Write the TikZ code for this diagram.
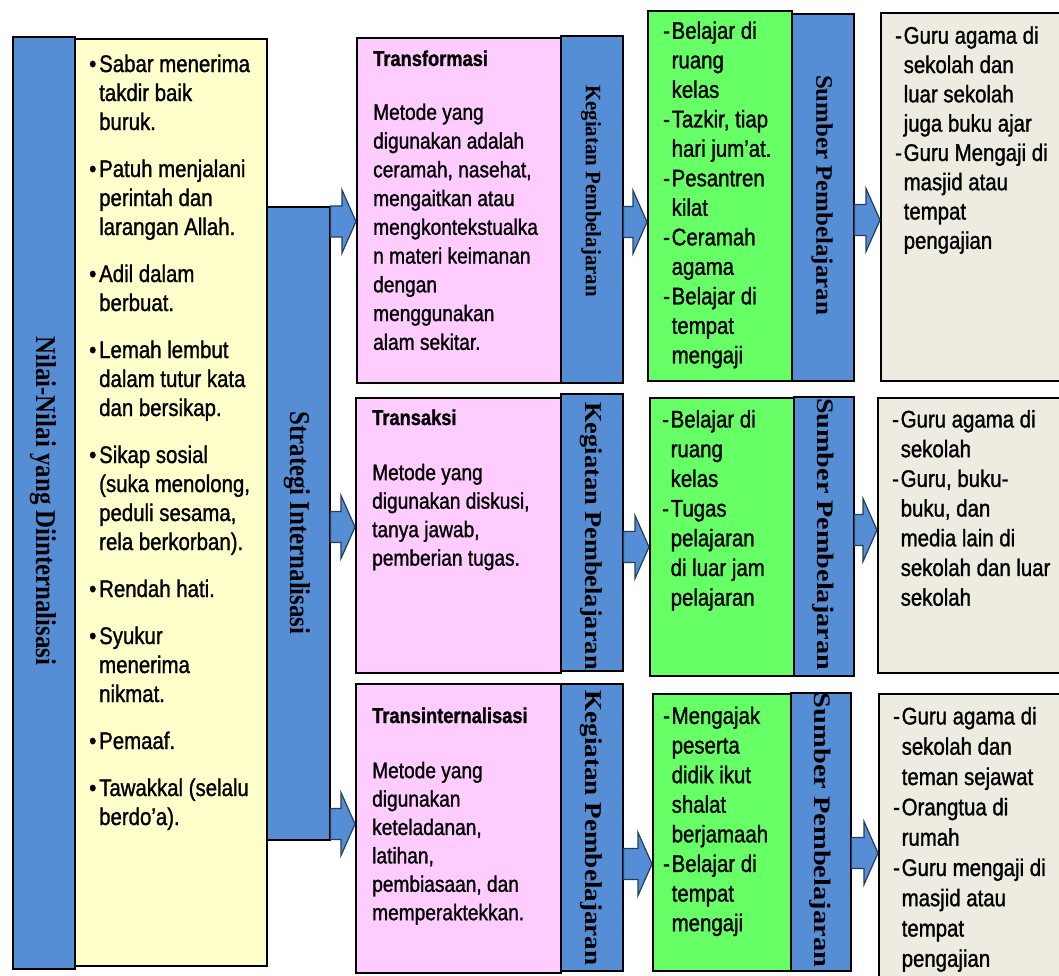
\documentclass[tikz,border=0pt]{standalone}
\usepackage{fontspec}
\setmainfont{Liberation Sans}[FakeStretch=0.85, FakeBold=1.2]
\newfontfamily\lserif{Liberation Serif}
\usetikzlibrary{calc}
\definecolor{barblue}{HTML}{558ED5}
\definecolor{arrline}{HTML}{243F60}
\definecolor{yellowfill}{HTML}{FFFFCC}
\definecolor{pinkfill}{HTML}{FFCCFF}
\definecolor{greenfill}{HTML}{66FF66}
\definecolor{grayfill}{HTML}{EEECE1}
\newcommand\bul{\makebox[10pt][l]{\textbullet}}
\newcommand\hind{\hspace*{10pt}}
\newcommand\dsh{\makebox[8.5pt][l]{-}}
\newcommand\dind{\hspace*{8.5pt}}
\newcommand\bx[6]{\node[#2, anchor=north west, inner sep=0pt, minimum width={(#5-#3)*1pt}, minimum height={(#6-#4)*1pt}] (#1) at (#3,#4) {};}
\newcommand\barr[3]{\draw[blockarrow] let \p1=(#1.east), \p2=(#2.west), \p3=(0,#3) in
  (\x1,\y3+15.5pt) -- (\x2-14pt,\y3+15.5pt) -- (\x2-14pt,\y3+31.5pt) -- (\x2,\y3)
  -- (\x2-14pt,\y3-31.5pt) -- (\x2-14pt,\y3-15.5pt) -- (\x1,\y3-15.5pt) -- cycle;}
\newcommand\vlab[3]{\rotatebox{-90}{\scalebox{#2}[1]{\fontsize{#1}{#1}\selectfont\lserif\bfseries #3}}}
\tikzset{
  box/.style={draw=black, line width=1.6pt},
  bluebar/.style={box, fill=barblue},
  yellowbox/.style={box, fill=yellowfill},
  pinkbox/.style={box, fill=pinkfill},
  greenbox/.style={box, fill=greenfill},
  graybox/.style={box, fill=grayfill},
  blockarrow/.style={draw=arrline, line width=1.2pt, fill=barblue, line join=miter},
  txt/.style={anchor=north west, inner sep=0pt, align=left},
  head/.style={anchor=base west, inner sep=0pt, font=\fontsize{21.5}{26}\selectfont\bfseries},
  vl/.style={inner sep=0pt}
}
\begin{document}
\begin{tikzpicture}[x=1pt, y=-1pt]
\path[use as bounding box] (0,0) rectangle (1059,976);
\clip (0,0) rectangle (1059,976);
\fill[white] (0,0) rectangle (1059,976);

% left column
\bx{nilai}{bluebar}{12}{36}{74}{968}
\bx{values}{yellowbox}{74}{38}{266}{965}
\bx{strat}{bluebar}{266}{206}{329}{839}

% pink column
\bx{pinkA}{pinkbox}{356}{37}{560}{382}
\bx{kegA}{bluebar}{560}{35}{622}{382}
\bx{pinkB}{pinkbox}{355}{397}{560}{672}
\bx{kegB}{bluebar}{560}{393}{622}{670}
\bx{pinkC}{pinkbox}{355}{683}{560}{972}
\bx{kegC}{bluebar}{560}{683}{622}{970}

% green column
\bx{greenA}{greenbox}{647}{10}{791}{380}
\bx{sumA}{bluebar}{791}{13}{853}{380}
\bx{greenB}{greenbox}{649}{397}{793}{675}
\bx{sumB}{bluebar}{793}{396}{853}{675}
\bx{greenC}{greenbox}{652}{693}{790}{970}
\bx{sumC}{bluebar}{790}{692}{850}{970}

% gray column
\bx{grayA}{graybox}{880}{12}{1066}{380}
\bx{grayB}{graybox}{877}{397}{1066}{672}
\bx{grayC}{graybox}{878}{693}{1066}{990}

% arrows
\barr{strat}{pinkA}{221.5}
\barr{strat}{pinkB}{527}
\barr{strat}{pinkC}{824}
\barr{kegA}{greenA}{222}
\barr{kegB}{greenB}{547}
\barr{kegC}{greenC}{864}
\barr{sumA}{grayA}{220}
\barr{sumB}{grayB}{530}
\barr{sumC}{grayC}{853}

% vertical labels
\node[vl] (lnilai) at (43,501) {\vlab{28.7}{0.867}{Nilai-Nilai yang Diinternalisasi}};
\node[vl] (lstrat) at (297,523) {\vlab{28.7}{0.866}{Strategi Internalisasi}};
\node[vl] (lkegA) at (591,191) {\vlab{22}{0.95}{Kegiatan Pembelajaran}};
\node[vl] (lkegB) at (591,536) {\vlab{24.2}{1.09}{Kegiatan Pembelajaran}};
\node[vl] (lkegC) at (591,828) {\vlab{24.2}{1.12}{Kegiatan Pembelajaran}};
\node[vl] (lsumA) at (822,195) {\vlab{23.7}{1.05}{Sumber Pembelajaran}};
\node[vl] (lsumB) at (823,534) {\vlab{23.7}{1.19}{Sumber Pembelajaran}};
\node[vl] (lsumC) at (820,830) {\vlab{23.7}{1.2}{Sumber Pembelajaran}};

% yellow text
\node[txt, font=\fontsize{24}{29}\selectfont] (tvalues) at (89,51.5) {\strut\bul Sabar menerima\\ \hind takdir baik\\ \hind buruk.\\[18pt]
\bul Patuh menjalani\\ \hind perintah dan\\ \hind larangan Allah.\\[18pt]
\bul Adil dalam\\ \hind berbuat.\\[18pt]
\bul Lemah lembut\\ \hind dalam tutur kata\\ \hind dan bersikap.\\[18pt]
\bul Sikap sosial\\ \hind (suka menolong,\\ \hind peduli sesama,\\ \hind rela berkorban).\\[18pt]
\bul Rendah hati.\\[18pt]
\bul Syukur\\ \hind menerima\\ \hind nikmat.\\[18pt]
\bul Pemaaf.\\[18pt]
\bul Tawakkal (selalu\\ \hind berdo’a).};

% pink texts
\node[head] (hA) at (373,66) {Transformasi};
\node[txt, font=\fontsize{22.5}{28.75}\selectfont] (tA) at (373,99.5) {\strut Metode yang\\ digunakan adalah\\ ceramah, nasehat,\\ mengaitkan atau\\ mengkontekstualka\\ n materi keimanan\\ dengan\\ menggunakan\\ alam sekitar.};
\node[head] (hB) at (372,425) {Transaksi};
\node[txt, font=\fontsize{22.5}{28.5}\selectfont] (tB) at (372,460) {\strut Metode yang\\ digunakan diskusi,\\ tanya jawab,\\ pemberian tugas.};
\node[head] (hC) at (372,723) {Transinternalisasi};
\node[txt, font=\fontsize{22.5}{28.4}\selectfont] (tC) at (372,758.1) {\strut Metode yang\\ digunakan\\ keteladanan,\\ latihan,\\ pembiasaan, dan\\ memperaktekkan.};

% green texts
\node[txt, font=\fontsize{24}{29.5}\selectfont] (gA) at (663,18) {\strut\dsh Belajar di\\ \dind ruang\\ \dind kelas\\ \dsh Tazkir, tiap\\ \dind hari jum’at.\\ \dsh Pesantren\\ \dind kilat\\ \dsh Ceramah\\ \dind agama\\ \dsh Belajar di\\ \dind tempat\\ \dind mengaji};
\node[txt, font=\fontsize{24}{29.7}\selectfont] (gB) at (662,406.5) {\strut\dsh Belajar di\\ \dind ruang\\ \dind kelas\\ \dsh Tugas\\ \dind pelajaran\\ \dind di luar jam\\ \dind pelajaran};
\node[txt, font=\fontsize{24}{29.6}\selectfont] (gC) at (663,703) {\strut\dsh Mengajak\\ \dind peserta\\ \dind didik ikut\\ \dind shalat\\ \dind berjamaah\\ \dsh Belajar di\\ \dind tempat\\ \dind mengaji};

% gray texts
\node[txt, font=\fontsize{24}{29.3}\selectfont] (sA) at (895,23) {\strut\dsh Guru agama di\\ \dind sekolah dan\\ \dind luar sekolah\\ \dind juga buku ajar\\ \dsh Guru Mengaji di\\ \dind masjid atau\\ \dind tempat\\ \dind pengajian};
\node[txt, font=\fontsize{24}{29.7}\selectfont] (sB) at (892,406.5) {\strut\dsh Guru agama di\\ \dind sekolah\\ \dsh Guru, buku-\\ \dind buku, dan\\ \dind media lain di\\ \dind sekolah dan luar\\ \dind sekolah};
\node[txt, font=\fontsize{24}{30.3}\selectfont] (sC) at (893,703) {\strut\dsh Guru agama di\\ \dind sekolah dan\\ \dind teman sejawat\\ \dsh Orangtua di\\ \dind rumah\\ \dsh Guru mengaji di\\ \dind masjid atau\\ \dind tempat\\ \dind pengajian};
\end{tikzpicture}
\end{document}
